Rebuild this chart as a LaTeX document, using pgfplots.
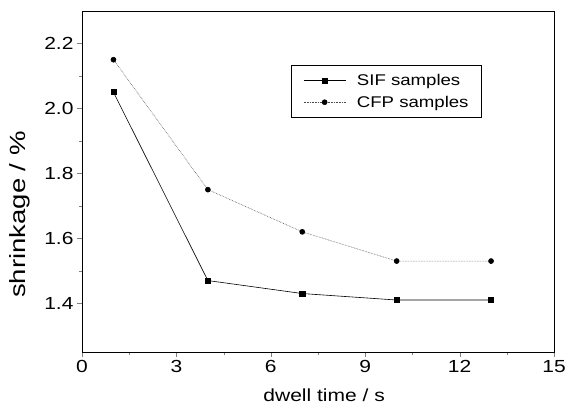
\documentclass[border=0pt]{standalone}
\usepackage{fontspec}
\setmainfont{Liberation Sans}[FakeStretch=1.2]
\newfontfamily\ylfont{Liberation Sans}[FakeStretch=1.25]
\usepackage{pgfplots}
\pgfplotsset{compat=1.18}
\begin{document}
\begin{tikzpicture}
\begin{axis}[
  scale only axis,
  width=472pt, height=341pt,
  xmin=0, xmax=15, ymin=1.25, ymax=2.3,
  xtick={0,3,6,9,12,15},
  ytick={1.4,1.6,1.8,2.0,2.2},
  minor x tick num=1,
  minor y tick num=1,
  tick align=outside,
  tick pos=left,
  major tick length=5pt,
  minor tick length=3pt,
  /pgf/number format/assume math mode=true,
  yticklabel style={/pgf/number format/.cd,fixed,fixed zerofill,precision=1},
  ticklabel style={font=\fontsize{17.5}{20}\selectfont},
  xlabel={dwell time / s},
  ylabel={shrinkage / \%},
  xlabel style={font=\fontsize{17.5}{20}\selectfont, at={(axis description cs:0.513,-0.126)}, anchor=center},
  ylabel style={font=\ylfont\fontsize{22}{26}\selectfont, at={(axis description cs:-0.131,0.403)}, anchor=center},
  axis line style={line width=0.8pt},
  legend style={at={(0.443,0.842)}, anchor=north west, draw=black, line width=0.5pt,
    font=\fontsize{15.5}{18}\selectfont, inner xsep=3pt, inner ysep=7pt, row sep=5pt},
  legend cell align=left,
  legend image code/.code={\path (0pt,0pt); \draw[mark repeat=2,mark phase=2] plot coordinates {(9pt,0pt) (30pt,0pt) (51pt,0pt)}; \path (60pt,0pt);},
]
\addplot[black, line width=0.6pt, mark=square*, mark size=2.6pt, mark options={solid}]
  coordinates {(1,2.05) (4,1.47) (7,1.43) (10,1.41) (13,1.41)};
\addlegendentry{SIF samples\hspace*{8pt}}
\addplot[black!70, densely dotted, line width=0.6pt, mark=*, mark size=2.5pt, mark options={solid, fill=black, draw=black}]
  coordinates {(1,2.15) (4,1.75) (7,1.62) (10,1.53) (13,1.53)};
\addlegendentry{CFP samples\hspace*{8pt}}
\end{axis}
\pgfresetboundingbox
\path[use as bounding box] ([xshift=-82pt,yshift=-57pt]current axis.south west) rectangle ([xshift=12pt,yshift=11pt]current axis.north east);
\end{tikzpicture}
\end{document}
